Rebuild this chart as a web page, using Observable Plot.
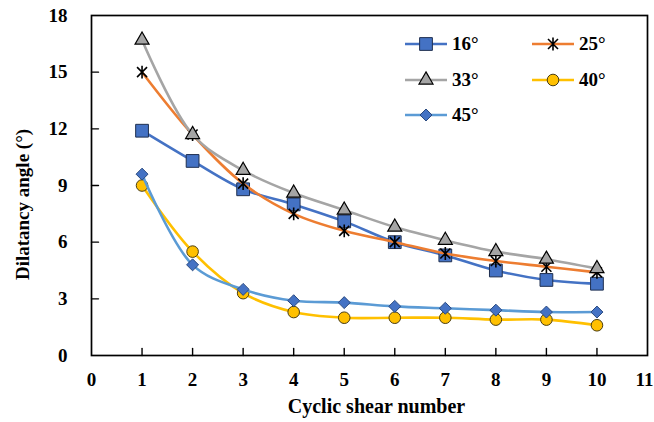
<!DOCTYPE html>
<html><head><meta charset="utf-8">
<script src="https://cdn.jsdelivr.net/npm/d3@7"></script>
<script src="https://cdn.jsdelivr.net/npm/@observablehq/plot@0.6"></script>
<style>
body{margin:0;background:#fff;}
#wrap{position:relative;width:654px;height:422px;}
.entry{position:absolute;display:flex;align-items:center;height:20px;font:bold 19px "Liberation Serif",serif;color:#000;}
.entry svg{margin-right:5px;}
</style></head><body><div id="wrap"></div>
<script>
const cycles = [1, 2, 3, 4, 5, 6, 7, 8, 9, 10];
const angle16 = [11.9, 10.3, 8.8, 8.0, 7.1, 6.0, 5.3, 4.5, 4.0, 3.8];
const angle25 = [15.0, 11.7, 9.1, 7.5, 6.6, 6.0, 5.4, 5.0, 4.7, 4.4];
const angle33 = [16.7, 11.7, 9.8, 8.6, 7.7, 6.8, 6.1, 5.5, 5.1, 4.6];
const angle40 = [9.0, 5.5, 3.3, 2.3, 2.0, 2.0, 2.0, 1.9, 1.9, 1.6];
const angle45 = [9.6, 4.8, 3.5, 2.9, 2.8, 2.6, 2.5, 2.4, 2.3, 2.3];
const seriesNames = ["16°", "25°", "33°", "40°", "45°"];
const xTicks = [0, 1, 2, 3, 4, 5, 6, 7, 8, 9, 10, 11];
const yTicks = [0, 3, 6, 9, 12, 15, 18];

const asterisk = {
  draw(ctx, size) {
    const r = Math.sqrt(size / Math.PI), a = r * 0.78;
    ctx.moveTo(0, -r); ctx.lineTo(0, r);
    ctx.moveTo(-a, -a); ctx.lineTo(a, a);
    ctx.moveTo(-a, a); ctx.lineTo(a, -a);
  }
};
const tickShape = {draw(ctx, l) { ctx.moveTo(0, 0); ctx.lineTo(0, -l); }};

const seriesValues = [angle16, angle25, angle33, angle40, angle45];
const styles = [
  {line: "#4472C4", symbol: d3.symbolSquare, r: 7.2, fill: "#4472C4", stroke: "#1f2f4f", sw: 1},
  {line: "#ED7D31", symbol: asterisk, r: 6.4, fill: "none", stroke: "#000", sw: 1.6},
  {line: "#A5A5A5", symbol: d3.symbolTriangle, r: 5.2, fill: "#A5A5A5", stroke: "#000", sw: 1.2},
  {line: "#FFC000", symbol: d3.symbolCircle, r: 5.8, fill: "#FFC000", stroke: "#4a3d10", sw: 1},
  {line: "#5B9BD5", symbol: d3.symbolDiamond2, r: 5.4, fill: "#4472C4", stroke: "#2a4a80", sw: 1}
];

const rows = seriesNames.flatMap((name, k) =>
  cycles.map((c, i) => ({series: name, cycle: c, angle: seriesValues[k][i]})));

const serif = "'Liberation Serif', 'Times New Roman', serif";
const seriesMarks = seriesNames.flatMap((name, k) => {
  const s = styles[k];
  const data = rows.filter(d => d.series === name);
  return [
    Plot.line(data, {x: "cycle", y: "angle", stroke: s.line, strokeWidth: 2.6, curve: "catmull-rom"}),
    Plot.dot(data, {x: "cycle", y: "angle", symbol: s.symbol, r: s.r, fill: s.fill, stroke: s.stroke, strokeWidth: s.sw})
  ];
});

const chart = Plot.plot({
  width: 654, height: 422,
  marginLeft: 91, marginRight: 7, marginTop: 15, marginBottom: 67,
  style: {fontFamily: serif, fontWeight: "bold", fontSize: "19px", color: "#000", background: "#fff"},
  x: {domain: [0, 11]},
  y: {domain: [0, 18]},
  marks: [
    Plot.axisX(xTicks.slice(0, -1), {tickSize: 0, tickPadding: 17, label: null, fontSize: 19, fontWeight: "bold"}),
    Plot.axisX(xTicks.slice(-1), {tickSize: 0, tickPadding: 17, label: null, fontSize: 19, fontWeight: "bold", dx: -3}),
    Plot.axisY(yTicks, {tickSize: 0, tickPadding: 24, label: null, fontSize: 19, fontWeight: "bold"}),
    Plot.vector(xTicks.slice(1, -1), {x: d => d, frameAnchor: "bottom", length: 7, rotate: 0, anchor: "start", shape: tickShape, stroke: "#000", strokeWidth: 1.4}),
    Plot.vector(yTicks.slice(1, -1), {y: d => d, frameAnchor: "left", length: 7, rotate: 90, anchor: "start", shape: tickShape, stroke: "#000", strokeWidth: 1.4}),
    ...seriesMarks,
    Plot.frame({stroke: "#000", strokeWidth: 1.7}),
    Plot.text(["Cyclic shear number"], {text: d => d, frameAnchor: "bottom", dy: 57, dx: 7, fontSize: 20, fontWeight: "bold"}),
    Plot.text(["Dilatancy angle (°)"], {text: d => d, frameAnchor: "left", textAnchor: "middle", dx: -69, dy: 19, rotate: -90, fontSize: 19, fontWeight: "bold"})
  ]
});
const wrap = document.getElementById("wrap");
wrap.appendChild(chart);

// Legend (HTML overlay in the top-right of the plot area)
const legendPos = [[405, 44], [532, 44], [405, 80], [532, 80], [405, 115]];
seriesNames.forEach((name, k) => {
  const s = styles[k];
  const div = document.createElement("div");
  div.className = "entry";
  div.style.left = legendPos[k][0] + "px";
  div.style.top = (legendPos[k][1] - 10) + "px";
  const svg = d3.create("svg").attr("width", 42).attr("height", 20);
  svg.append("line").attr("x1", 0).attr("x2", 42).attr("y1", 10).attr("y2", 10).attr("stroke", s.line).attr("stroke-width", 2.6);
  svg.append("path").attr("transform", "translate(21,10)")
    .attr("d", d3.symbol(s.symbol, Math.PI * s.r * s.r)())
    .attr("fill", s.fill).attr("stroke", s.stroke).attr("stroke-width", s.sw);
  div.appendChild(svg.node());
  const span = document.createElement("span");
  span.textContent = name;
  div.appendChild(span);
  wrap.appendChild(div);
});
</script></body></html>
